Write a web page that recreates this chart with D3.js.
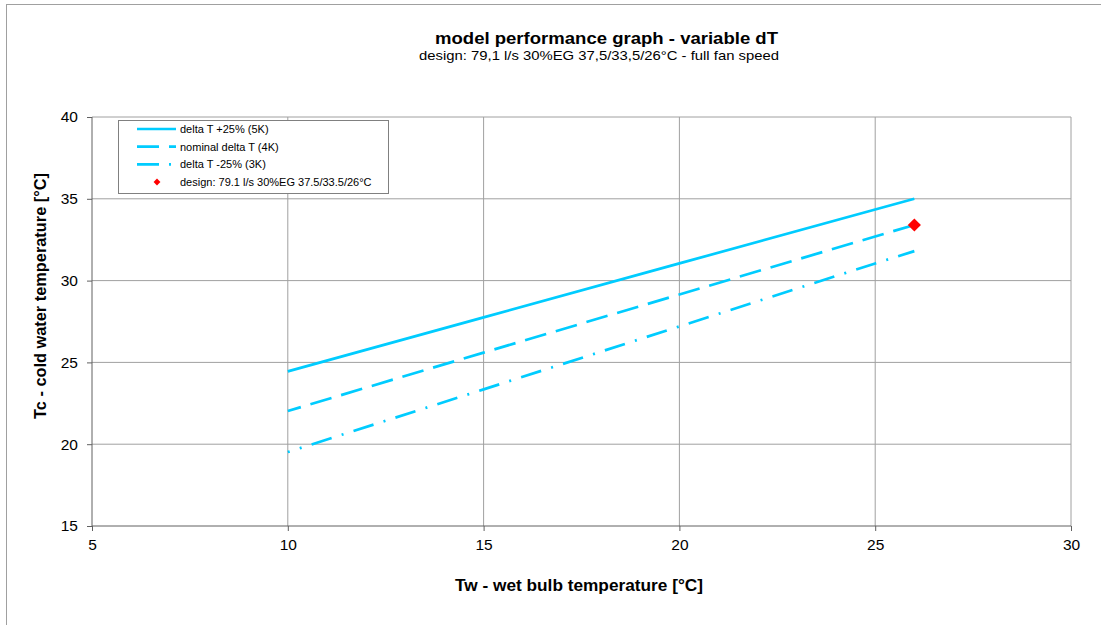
<!DOCTYPE html>
<html>
<head>
<meta charset="utf-8">
<script src="https://cdn.jsdelivr.net/npm/d3@7"></script>
<style>
  body { margin: 0; background: #fff; }
  svg { font-family: "Liberation Sans", Arial, sans-serif; }
</style>
</head>
<body>
<svg id="chart" width="1101" height="625"></svg>
<script>
// data
const wetBulb = [10, 15, 20, 25, 26];
const dtPlus25 = [24.45, 27.75, 31.05, 34.35, 35.0];
const dtNominal = [22.03, 25.6, 29.15, 32.7, 33.4];
const dtMinus25 = [19.52, 23.35, 27.2, 31.05, 31.8];
const designPoint = [26, 33.4];
const xTicks = [5, 10, 15, 20, 25, 30];
const yTicks = [15, 20, 25, 30, 35, 40];
const seriesNames = ["delta T +25% (5K)", "nominal delta T (4K)", "delta T -25% (3K)"];
const designName = "design: 79.1 l/s 30%EG 37.5/33.5/26°C";

const svg = d3.select("#chart");
const lineColor = "#00CCFF";

// outer frame
svg.append("rect")
    .attr("x", 6.5).attr("y", 4.5)
    .attr("width", 1100).attr("height", 630)
    .attr("fill", "none").attr("stroke", "#a0a0a0");

const x = d3.scaleLinear().domain([5, 30]).range([92, 1071]);
const y = d3.scaleLinear().domain([15, 40]).range([526, 117]);

// grid
svg.append("g").selectAll("line")
    .data(xTicks.slice(1))
    .join("line")
    .attr("x1", d => x(d)).attr("x2", d => x(d))
    .attr("y1", y(15)).attr("y2", y(40))
    .attr("stroke", "#a0a0a0").attr("stroke-width", 1);

svg.append("g").selectAll("line")
    .data(yTicks.slice(1))
    .join("line")
    .attr("x1", x(5)).attr("x2", x(30))
    .attr("y1", d => y(d)).attr("y2", d => y(d))
    .attr("stroke", "#a0a0a0").attr("stroke-width", 1);

// axes
const xAxis = d3.axisBottom(x).tickValues(xTicks).tickSize(5).tickPadding(8);
const yAxis = d3.axisLeft(y).tickValues(yTicks).tickSize(5).tickPadding(9);

const gx = svg.append("g").attr("transform", `translate(0,${y(15)})`).call(xAxis);
const gy = svg.append("g").attr("transform", `translate(${x(5)},0)`).call(yAxis);
[gx, gy].forEach(g => {
    g.select(".domain").attr("stroke", "#606060");
    g.selectAll(".tick line").attr("stroke", "#606060");
    g.selectAll(".tick text")
        .attr("font-size", 15.5)
        .attr("fill", "#000")
        .attr("font-family", "Liberation Sans, Arial, sans-serif");
});
gy.select(".domain").attr("d", `M0,${y(15)}V${y(40)}`);
gx.select(".domain").attr("d", `M${x(5)},0H${x(30)}`);

// lines
const line = d3.line()
    .x(d => x(d[0]))
    .y(d => y(d[1]));

const series = [
    { values: dtPlus25, dash: null, offset: 0 },
    { values: dtNominal, dash: "22,10", offset: 8.4 },
    { values: dtMinus25, dash: "21,10.5,2,10.5", offset: 19 }
];

series.forEach(s => {
    svg.append("path")
        .datum(wetBulb.map((w, i) => [w, s.values[i]]))
        .attr("d", line)
        .attr("fill", "none")
        .attr("stroke", lineColor)
        .attr("stroke-width", 2.7)
        .attr("stroke-dasharray", s.dash)
        .attr("stroke-dashoffset", s.offset);
});

// design point
svg.append("path")
    .attr("d", d3.symbol().type(d3.symbolDiamond2).size(110)())
    .attr("transform", `translate(${x(designPoint[0])},${y(designPoint[1])})`)
    .attr("fill", "#ff0000");

// legend
const legend = svg.append("g").attr("transform", "translate(118,120)");
legend.append("rect")
    .attr("x", 0.5).attr("y", 0.5)
    .attr("width", 270).attr("height", 73)
    .attr("fill", "#fff").attr("stroke", "#808080");

const legendDash = [null, "22,10", "22,10,2,10"];
series.forEach((s, i) => {
    const ly = 9 + i * 17.7;
    legend.append("line")
        .attr("x1", 19).attr("x2", 58)
        .attr("y1", ly).attr("y2", ly)
        .attr("stroke", lineColor)
        .attr("stroke-width", 2.7)
        .attr("stroke-dasharray", legendDash[i]);
    legend.append("text")
        .attr("x", 62).attr("y", ly + 4)
        .attr("font-size", 11)
        .text(seriesNames[i]);
});
legend.append("path")
    .attr("d", d3.symbol().type(d3.symbolDiamond2).size(30)())
    .attr("transform", "translate(39,62)")
    .attr("fill", "#ff0000");
legend.append("text")
    .attr("x", 62).attr("y", 66)
    .attr("font-size", 11)
    .text(designName);

// titles
svg.append("text")
    .attr("x", 435).attr("y", 44)
    .attr("font-size", 16.5).attr("font-weight", "bold")
    .attr("textLength", 343).attr("lengthAdjust", "spacingAndGlyphs")
    .text("model performance graph - variable dT");
svg.append("text")
    .attr("x", 419).attr("y", 60)
    .attr("font-size", 13.5)
    .attr("textLength", 360).attr("lengthAdjust", "spacingAndGlyphs")
    .text("design: 79,1 l/s 30%EG 37,5/33,5/26°C - full fan speed");

svg.append("text")
    .attr("x", 455).attr("y", 591)
    .attr("font-size", 16.5).attr("font-weight", "bold")
    .attr("textLength", 248).attr("lengthAdjust", "spacingAndGlyphs")
    .text("Tw - wet bulb temperature [°C]");
svg.append("text")
    .attr("transform", "translate(46,419) rotate(-90)")
    .attr("font-size", 16.5).attr("font-weight", "bold")
    .attr("textLength", 246).attr("lengthAdjust", "spacingAndGlyphs")
    .text("Tc - cold water temperature [°C]");
</script>
</body>
</html>
